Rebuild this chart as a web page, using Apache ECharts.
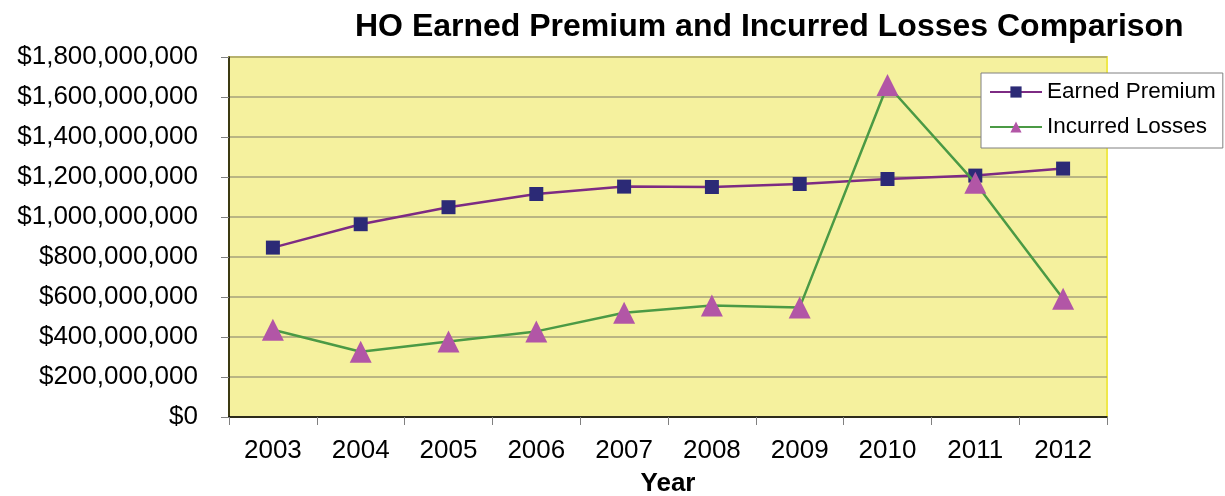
<!DOCTYPE html>
<html>
<head>
<meta charset="utf-8">
<script src="https://cdn.jsdelivr.net/npm/echarts@6/dist/echarts.min.js"></script>
<style>
html,body{margin:0;padding:0;background:#fff;}
#chart{width:1225px;height:496px;}
</style>
</head>
<body>
<div id="chart"></div>
<script>
var years = ['2003','2004','2005','2006','2007','2008','2009','2010','2011','2012'];
var earnedPremium = [847000000, 964000000, 1049000000, 1115000000, 1152000000, 1150000000, 1165000000, 1190000000, 1207000000, 1242000000];
var incurredLosses = [436000000, 326000000, 378000000, 428000000, 521000000, 557000000, 548000000, 1660000000, 1171000000, 591000000];
var titleText = 'HO Earned Premium and Incurred Losses Comparison';
var xAxisName = 'Year';

var chart = echarts.init(document.getElementById('chart'));
var font = '"Liberation Sans", Arial, sans-serif';
chart.setOption({
  animation: false,
  backgroundColor: '#ffffff',
  title: {
    text: titleText,
    left: 355,
    top: 11,
    padding: 0,
    textStyle: {fontFamily: font, fontSize: 32, fontWeight: 'bold', color: '#000'}
  },
  legend: {
    orient: 'vertical',
    left: 981,
    top: 73,
    padding: [7, 7, 9, 8],
    itemGap: 11,
    itemWidth: 52,
    itemHeight: 14,
    backgroundColor: '#ffffff',
    borderColor: '#808080',
    borderWidth: 1,
    borderRadius: 0,
    textStyle: {fontFamily: font, fontSize: 22.5, color: '#000', lineHeight: 24, padding: [0,0,0,0]},
    data: ['Earned Premium', 'Incurred Losses']
  },
  grid: {
    left: 229, right: 118, top: 57, bottom: 79,
    outerBoundsMode: 'none',
    show: true,
    backgroundColor: '#f5f19e',
    borderColor: '#efe84a',
    borderWidth: 2,
    containLabel: false
  },
  xAxis: {
    type: 'category',
    data: years,
    boundaryGap: true,
    name: xAxisName,
    nameLocation: 'middle',
    nameGap: 54,
    nameTextStyle: {fontFamily: font, fontSize: 26, fontWeight: 'bold', color: '#000'},
    axisLine: {show: true, lineStyle: {color: '#000', width: 1.5}},
    axisTick: {show: true, interval: 0, alignWithLabel: false, length: 8, lineStyle: {color: '#808080', width: 1}},
    axisLabel: {fontFamily: font, fontSize: 26, color: '#000', margin: 21, interval: 0},
    splitLine: {show: false}
  },
  yAxis: {
    type: 'value',
    min: 0,
    max: 1800000000,
    interval: 200000000,
    axisLine: {show: true, lineStyle: {color: '#000', width: 1.5}},
    axisTick: {show: true, length: 8, lineStyle: {color: '#808080', width: 1}},
    axisLabel: {
      fontFamily: font, fontSize: 26, color: '#000', margin: 31,
      padding: [6, 0, 0, 0],
      formatter: function (v) { return '$' + Number(v).toLocaleString('en-US'); }
    },
    splitLine: {show: true, lineStyle: {color: '#a5a07a', width: 1.5}}
  },
  series: [
    {
      name: 'Earned Premium',
      type: 'line',
      data: earnedPremium,
      symbol: 'rect',
      symbolSize: 14,
      lineStyle: {color: '#7d2b83', width: 2.5},
      itemStyle: {color: '#2c2a76', borderWidth: 0},
      z: 3
    },
    {
      name: 'Incurred Losses',
      type: 'line',
      data: incurredLosses,
      symbol: 'triangle',
      symbolSize: 22,
      lineStyle: {color: '#4b9a45', width: 2.5},
      itemStyle: {color: '#b256a6', borderWidth: 0},
      z: 4
    }
  ]
});
</script>
</body>
</html>
